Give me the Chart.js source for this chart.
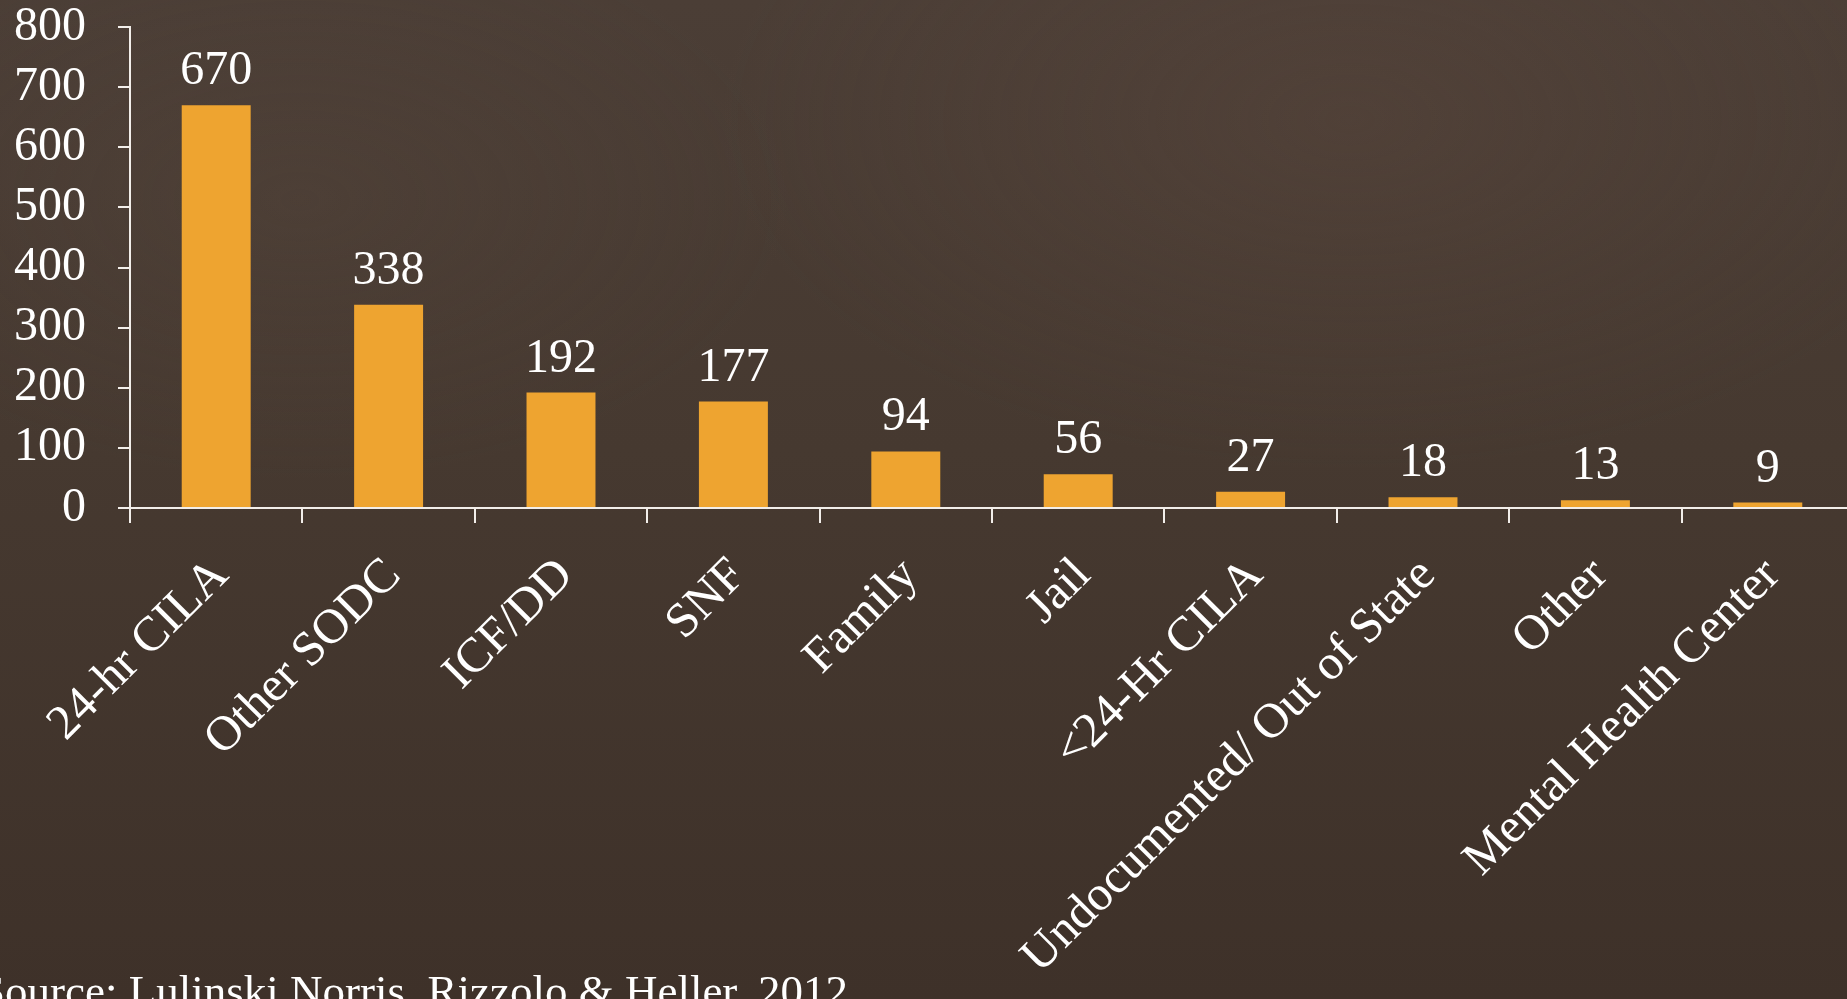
<!DOCTYPE html>
<html>
<head>
<meta charset="utf-8">
<script src="https://cdn.jsdelivr.net/npm/chart.js@4/dist/chart.umd.min.js"></script>
<style>
  html, body {
    margin: 0;
    padding: 0;
    width: 1847px;
    height: 999px;
    overflow: hidden;
  }
  body {
    background:
      radial-gradient(ellipse 900px 500px at 1350px 120px, rgba(92, 72, 62, 0.35), rgba(92, 72, 62, 0) 70%),
      radial-gradient(ellipse 700px 400px at 300px 200px, rgba(88, 72, 62, 0.25), rgba(88, 72, 62, 0) 70%),
      linear-gradient(180deg, #4b3e36 0%, #463930 45%, #3e3129 100%);
  }
  #wrap {
    position: absolute;
    left: 0;
    top: 0;
    width: 1856px;
    height: 999px;
  }
</style>
</head>
<body>
<div id="wrap"><canvas id="chart"></canvas></div>
<script>
// Where people went after leaving the state-operated developmental centers
const categories = [
  '24-hr CILA',
  'Other SODC',
  'ICF/DD',
  'SNF',
  'Family',
  'Jail',
  '<24-Hr CILA',
  'Undocumented/ Out of State',
  'Other',
  'Mental Health Center'
];
const placements = [670, 338, 192, 177, 94, 56, 27, 18, 13, 9];

const yMin = 0;
const yMax = 800;
const yStep = 100;

const sourceNote = 'Source: Lulinski Norris, Rizzolo & Heller, 2012';

const FONT_FAMILY = '"Liberation Serif", "Times New Roman", serif';
const TEXT_COLOR = '#ffffff';
const AXIS_COLOR = '#f2eeea';
const BAR_COLOR = '#eea430';

// Numbers printed above each bar
const valueLabels = {
  id: 'valueLabels',
  afterDatasetsDraw(chart) {
    const { ctx } = chart;
    const meta = chart.getDatasetMeta(0);
    const values = chart.data.datasets[0].data;
    ctx.save();
    ctx.font = '48px ' + FONT_FAMILY;
    ctx.fillStyle = TEXT_COLOR;
    ctx.textAlign = 'center';
    ctx.textBaseline = 'alphabetic';
    meta.data.forEach((bar, i) => {
      ctx.fillText(String(values[i]), bar.x, bar.y - 21);
    });
    ctx.restore();
  }
};

// Citation line along the bottom edge
const sourceLine = {
  id: 'sourceLine',
  afterDraw(chart) {
    const { ctx } = chart;
    ctx.save();
    ctx.font = '45px ' + FONT_FAMILY;
    ctx.fillStyle = TEXT_COLOR;
    ctx.textAlign = 'left';
    ctx.textBaseline = 'alphabetic';
    ctx.fillText(sourceNote, -20, 1006);
    ctx.restore();
  }
};

new Chart(document.getElementById('chart'), {
  type: 'bar',
  data: {
    labels: categories,
    datasets: [{
      data: placements,
      backgroundColor: BAR_COLOR,
      borderWidth: 0,
      barPercentage: 0.4,
      categoryPercentage: 1.0
    }]
  },
  options: {
    responsive: true,
    maintainAspectRatio: false,
    animation: false,
    devicePixelRatio: 1,
    layout: { padding: { top: 27, right: 2, left: 0, bottom: 0 } },
    plugins: {
      legend: { display: false },
      tooltip: { enabled: false }
    },
    scales: {
      x: {
        offset: true,
        grid: {
          offset: true,
          drawOnChartArea: false,
          drawTicks: true,
          tickLength: 15,
          color: AXIS_COLOR,
          lineWidth: 2
        },
        border: { color: AXIS_COLOR, width: 2 },
        ticks: {
          color: TEXT_COLOR,
          font: { family: FONT_FAMILY, size: 49 },
          minRotation: 45,
          maxRotation: 45,
          autoSkip: false,
          padding: 24,
          labelOffset: 5
        },
        afterFit(scale) {
          scale.height = 491;
          scale.paddingLeft = 0;
          scale.paddingRight = 0;
        }
      },
      y: {
        min: yMin,
        max: yMax,
        ticks: {
          stepSize: yStep,
          autoSkip: false,
          color: TEXT_COLOR,
          font: { family: FONT_FAMILY, size: 48 },
          padding: 32
        },
        grid: {
          drawOnChartArea: false,
          drawTicks: true,
          tickLength: 12,
          color: AXIS_COLOR,
          lineWidth: 2
        },
        border: { color: AXIS_COLOR, width: 2 },
        afterFit(scale) {
          scale.width = 130;
          scale.paddingTop = 0;
          scale.paddingBottom = 0;
        }
      }
    }
  },
  plugins: [valueLabels, sourceLine]
});
</script>
</body>
</html>
